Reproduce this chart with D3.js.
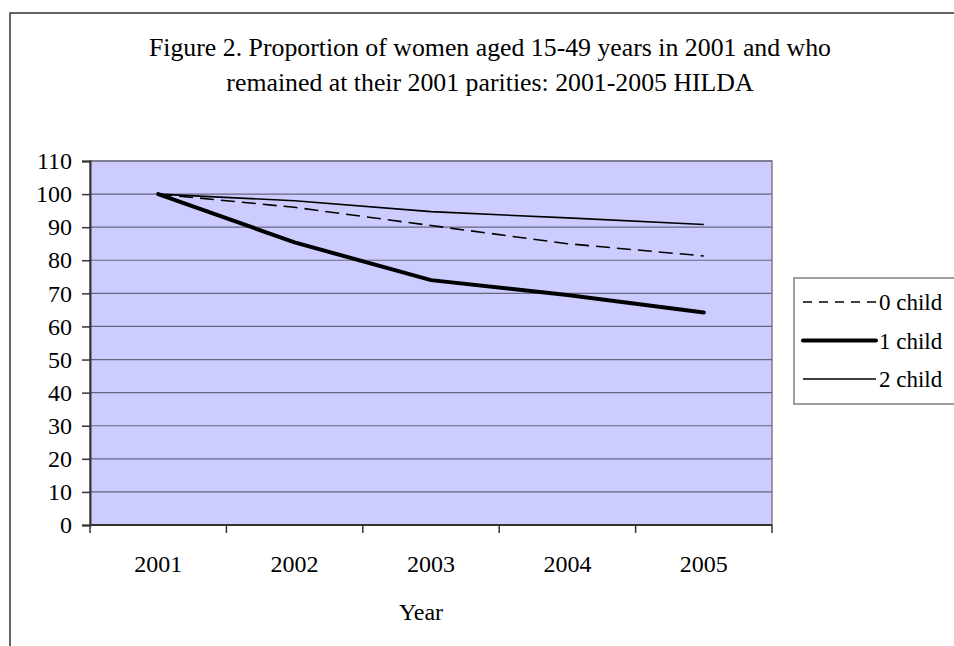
<!DOCTYPE html>
<html>
<head>
<style>
  body { margin: 0; background: #fff; }
  svg text { font-family: "Liberation Serif", "Times New Roman", serif; fill: #000; }
</style>
<script src="https://d3js.org/d3.v7.min.js"></script>
</head>
<body>
<div id="chart"></div>
<script>
const years = ["2001", "2002", "2003", "2004", "2005"]
const zeroChild = [100, 96, 90.5, 85, 81.3]
const oneChild = [100, 85.4, 74, 69.5, 64.2]
const twoChild = [100, 98, 94.7, 92.8, 90.8]
const yTicks = [0, 10, 20, 30, 40, 50, 60, 70, 80, 90, 100, 110]
const seriesNames = ["0 child", "1 child", "2 child"]

var w = 954, h = 646
var plot = {left: 90, right: 772, top: 161, bottom: 525}
var serif = '"Liberation Serif", "Times New Roman", serif'

var svg = d3.select("#chart").append("svg")
  .attr("width", w).attr("height", h)
  .attr("font-family", serif)

// outer chart border (runs past the window on right and bottom)
svg.append("rect")
  .attr("x", 10).attr("y", 13)
  .attr("width", 1000).attr("height", 700)
  .style("fill", "#fff").style("stroke", "#333").style("stroke-width", 1.5)

var x = d3.scaleBand().domain(years).range([plot.left, plot.right])
var y = d3.scaleLinear().domain([0, 110]).range([plot.bottom, plot.top])

svg.append("rect")
  .attr("x", plot.left).attr("y", plot.top)
  .attr("width", plot.right - plot.left).attr("height", plot.bottom - plot.top)
  .style("fill", "#ccccff").style("stroke", "#808080").style("stroke-width", 1.5)

// gridlines
svg.append("g").selectAll("line")
  .data(yTicks.filter(d => d > 0))
  .enter().append("line")
    .attr("x1", plot.left).attr("x2", plot.right)
    .attr("y1", d => y(d)).attr("y2", d => y(d))
    .style("stroke", "#666680").style("stroke-width", 1.2)

// y axis
var yAxis = svg.append("g")
  .attr("transform", "translate(" + plot.left + ",0)")
  .call(d3.axisLeft(y).tickValues(yTicks).tickSize(8).tickPadding(10))
yAxis.attr("font-family", serif).attr("font-size", 24)
yAxis.select(".domain").style("stroke", "#333").style("stroke-width", 2)
yAxis.selectAll(".tick line").style("stroke", "#333").style("stroke-width", 1.5)

// x axis: labels in band centres, ticks at band edges
var xAxis = svg.append("g")
  .attr("transform", "translate(0," + plot.bottom + ")")
  .call(d3.axisBottom(x).tickSize(0).tickPadding(30))
xAxis.attr("font-family", serif).attr("font-size", 24)
xAxis.select(".domain").remove()
var edges = years.map(d => x(d)).concat([x(years[years.length - 1]) + x.bandwidth()])
svg.append("g").selectAll("line")
  .data(edges).enter().append("line")
    .attr("x1", d => d).attr("x2", d => d)
    .attr("y1", plot.bottom).attr("y2", plot.bottom + 8)
    .style("stroke", "#333").style("stroke-width", 1.5)
svg.append("line")
  .attr("x1", plot.left).attr("x2", plot.right)
  .attr("y1", plot.bottom).attr("y2", plot.bottom)
  .style("stroke", "#333").style("stroke-width", 2)

// lines
var line = d3.line()
  .x((d, i) => x(years[i]) + x.bandwidth() / 2)
  .y(d => y(d))

var styles = [
  {dash: "14,7", width: 1.6},
  {dash: null, width: 4},
  {dash: null, width: 1.6}
]
var allSeries = [zeroChild, oneChild, twoChild]

allSeries.forEach(function(s, i) {
  svg.append("path")
    .datum(s)
    .attr("d", line)
    .style("fill", "none")
    .style("stroke", "#000")
    .style("stroke-width", styles[i].width)
    .style("stroke-dasharray", styles[i].dash)
    .style("stroke-linejoin", "round")
    .style("stroke-linecap", i == 1 ? "round" : "butt")
})

// title
svg.append("text")
  .attr("x", 490).attr("y", 56)
  .attr("text-anchor", "middle")
  .attr("font-size", 25.8)
  .text("Figure 2. Proportion of women aged 15-49 years in 2001 and who")
svg.append("text")
  .attr("x", 490).attr("y", 91)
  .attr("text-anchor", "middle")
  .attr("font-size", 25.8)
  .text("remained at their 2001 parities: 2001-2005 HILDA")

// x axis title
svg.append("text")
  .attr("x", 421).attr("y", 620)
  .attr("text-anchor", "middle")
  .attr("font-size", 24)
  .text("Year")

// legend
var legend = svg.append("g")
legend.append("rect")
  .attr("x", 794).attr("y", 278)
  .attr("width", 200).attr("height", 126)
  .style("fill", "#fff").style("stroke", "#808080").style("stroke-width", 1.5)

var legendDash = [ "9,7", null, null ]
seriesNames.forEach(function(name, i) {
  var ly = 302 + i * 38.5
  legend.append("line")
    .attr("x1", 803).attr("x2", 876)
    .attr("y1", ly).attr("y2", ly)
    .style("stroke", "#000")
    .style("stroke-width", styles[i].width)
    .style("stroke-dasharray", legendDash[i])
    .style("stroke-linecap", i == 1 ? "round" : "butt")
  legend.append("text")
    .attr("x", 879).attr("y", ly + 8)
    .attr("font-size", 23)
    .text(name)
})
</script>
</body>
</html>
